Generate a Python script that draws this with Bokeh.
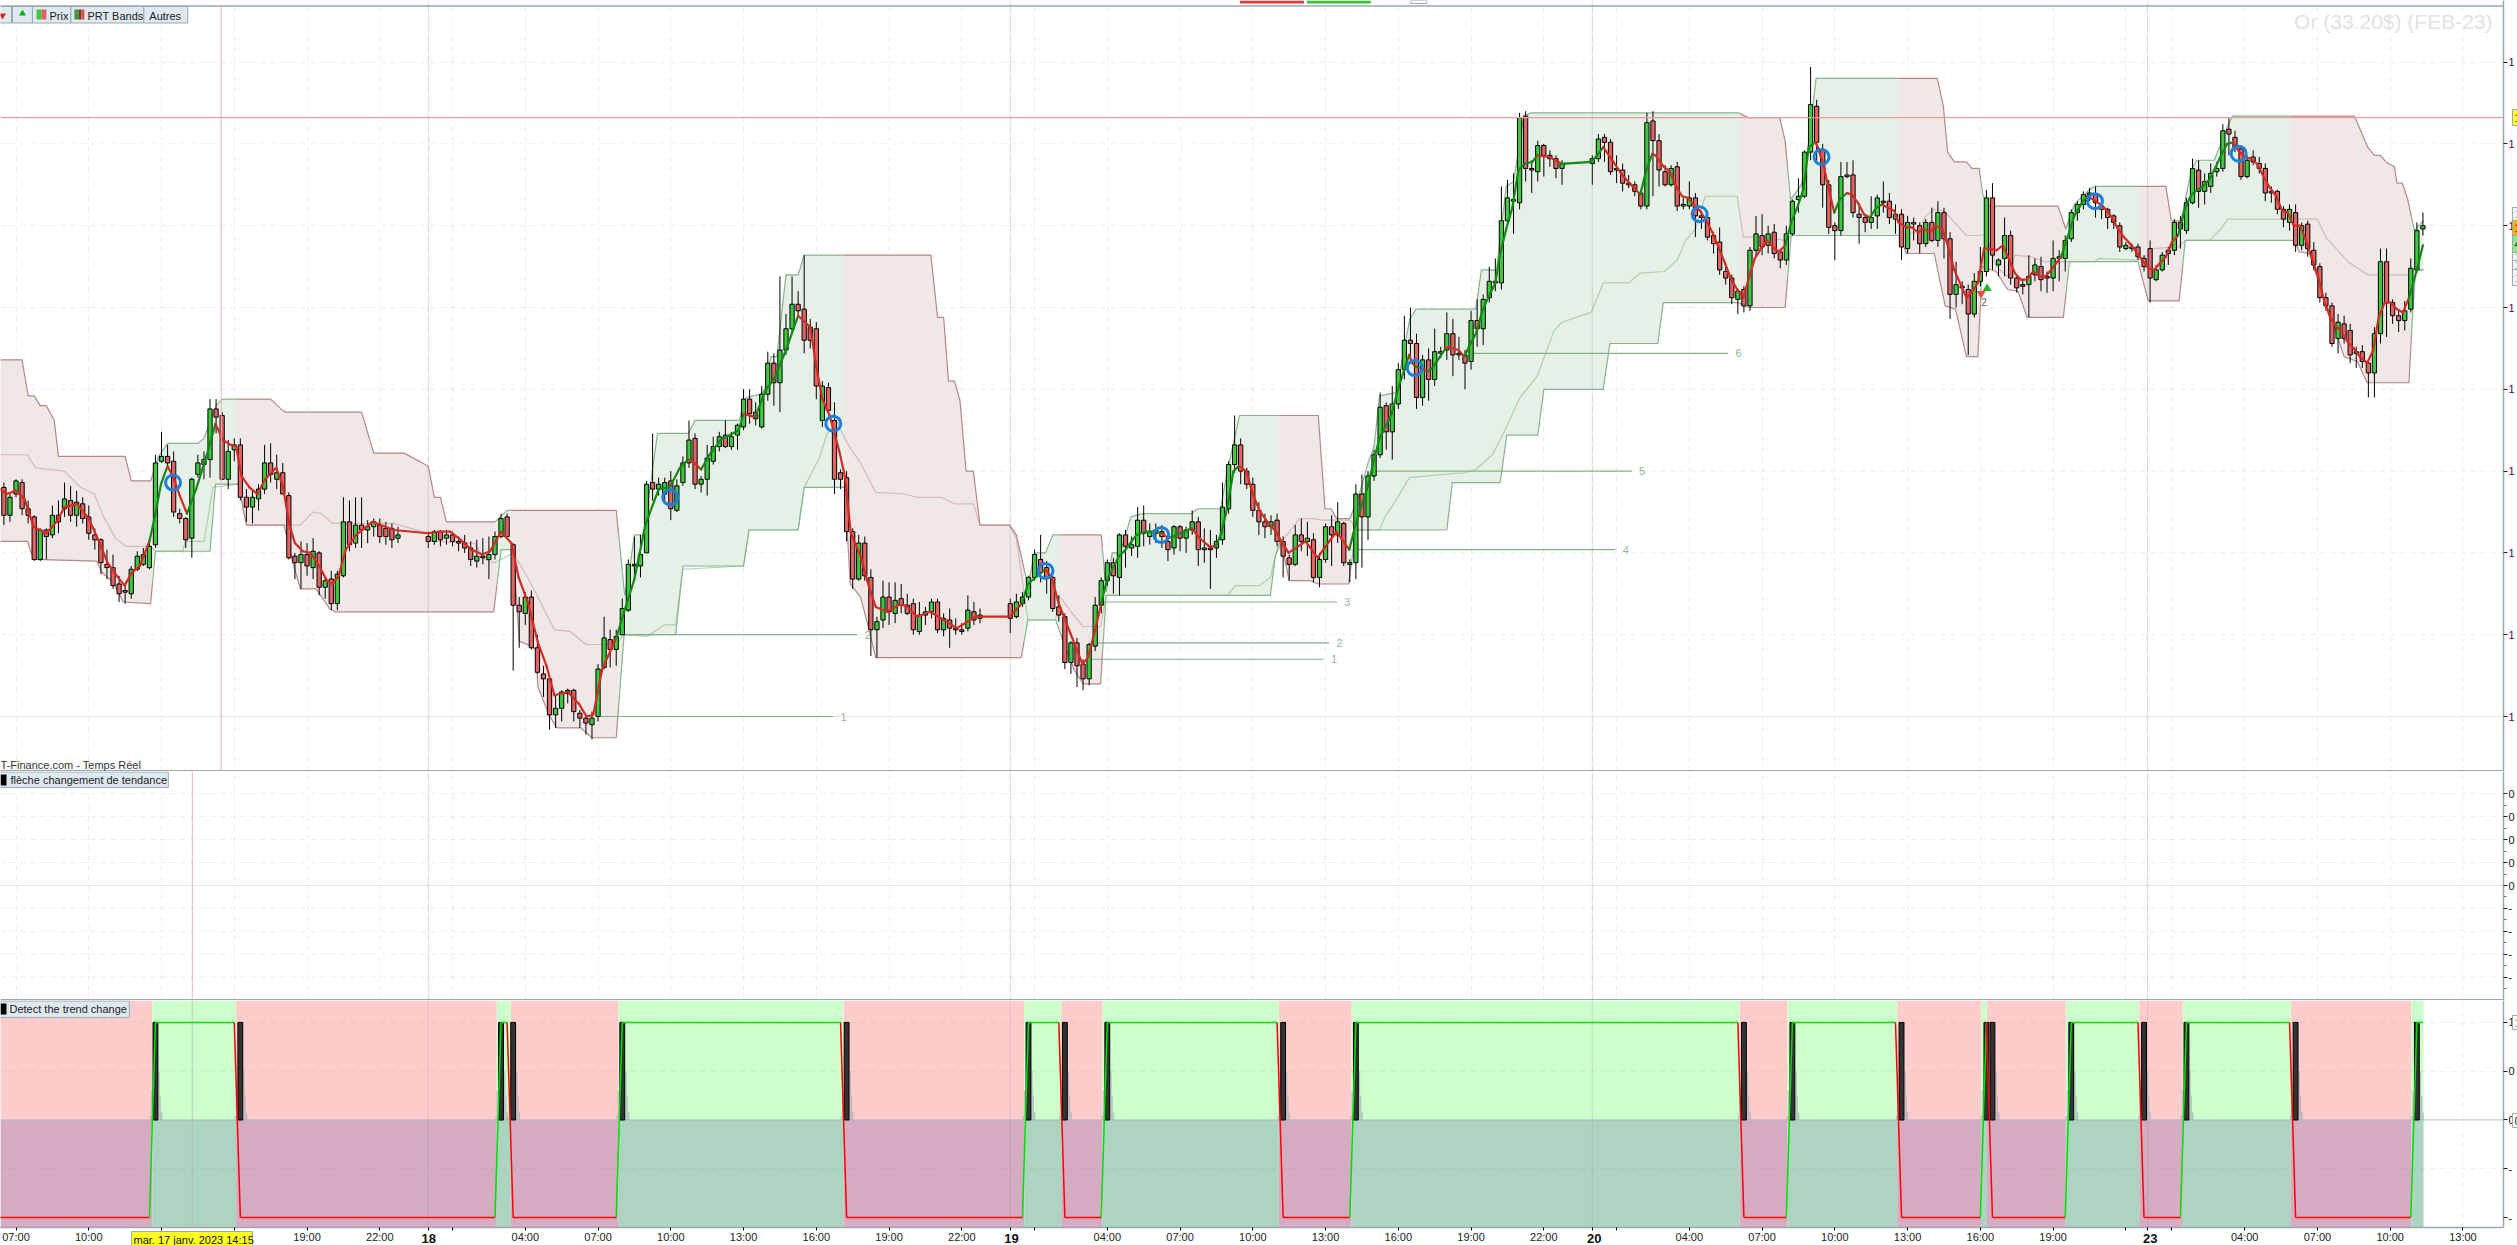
from bokeh.plotting import figure
from bokeh.layouts import column
from bokeh.embed import file_html
from bokeh.resources import INLINE
from bokeh.models import (LinearAxis, FixedTicker, Range1d, Span)
from bokeh.core.properties import value
import numpy as np

FONT = "Liberation Sans"

# ---- candles: (open, close, high, low); each session has its first bar number
session_17_start = 0
session_17 = [
(1919.0,1917.3,1919.3,1916.7),(1917.3,1918.4,1918.6,1916.9),(1918.6,1919.4,1919.5,1918.4),(1919.3,1917.7,1919.5,1917.3),
(1917.7,1917.3,1918.2,1916.8),(1917.2,1914.6,1917.3,1914.5),(1914.6,1916.4,1916.5,1914.5),(1916.4,1916.0,1916.5,1914.6),
(1916.1,1917.3,1917.9,1915.9),(1917.3,1916.9,1918.2,1916.2),(1917.7,1918.3,1919.3,1917.2),(1918.2,1917.3,1919.1,1916.9),
(1917.3,1918.1,1918.8,1916.6),(1918.0,1917.1,1918.4,1916.8),(1917.2,1916.2,1917.9,1915.8),(1916.1,1915.8,1916.5,1915.2),
(1915.8,1914.4,1915.9,1913.7),(1914.3,1914.1,1915.2,1913.4),(1914.1,1913.0,1914.9,1912.8),(1913.1,1912.5,1913.6,1912.0),
(1912.7,1912.6,1913.1,1911.9),(1912.5,1914.0,1914.2,1912.2),(1914.0,1914.8,1915.1,1913.9),(1914.3,1914.9,1915.3,1914.2),
(1914.1,1915.4,1915.9,1914.0),(1915.5,1920.5,1921.0,1915.3),(1920.6,1920.9,1922.4,1920.5),(1920.9,1920.5,1921.6,1920.3),
(1920.6,1917.5,1921.2,1917.2),(1917.4,1917.1,1917.7,1916.8),(1917.1,1915.8,1917.2,1915.3),(1915.9,1919.5,1919.6,1914.7),
(1919.8,1920.5,1921.0,1919.6),(1920.4,1920.7,1921.2,1919.5),(1920.7,1923.8,1924.4,1919.6),(1923.8,1923.3,1924.4,1922.3),
(1923.4,1919.5,1923.6,1919.5),(1919.5,1921.2,1921.9,1918.9),(1921.3,1921.6,1922.0,1920.6),(1921.6,1918.4,1922.0,1918.2),
(1918.4,1917.8,1918.9,1916.9),(1917.8,1918.4,1918.9,1916.8),(1918.3,1918.9,1919.2,1917.6),(1918.9,1920.5,1921.6,1918.6),
(1920.5,1919.8,1921.7,1919.3),(1919.5,1919.9,1921.0,1918.9),(1919.9,1918.6,1920.5,1918.6),(1918.5,1914.7,1918.7,1914.6),
(1914.8,1914.4,1915.0,1913.4),(1914.4,1914.9,1915.7,1912.8),(1914.9,1914.2,1915.6,1913.6),(1914.1,1915.1,1915.9,1913.4),
(1915.0,1912.9,1915.1,1912.4),(1912.9,1913.3,1913.6,1912.2),(1913.4,1911.9,1913.9,1911.5),(1911.9,1913.7,1913.9,1911.5),
(1913.6,1916.9,1918.4,1913.5),(1916.9,1915.5,1918.2,1915.1),(1915.6,1916.7,1918.4,1915.3),(1916.7,1916.4,1918.4,1915.3),
(1916.4,1916.6,1917.0,1915.6),(1916.6,1916.9,1917.1,1916.0),(1916.7,1916.0,1917.1,1915.6),(1916.5,1916.0,1916.9,1915.5),
(1916.5,1915.8,1916.8,1915.3),(1915.9,1916.1,1916.6,1915.6),
]
session_18_start = 70
session_18 = [
(1916.0,1915.7,1916.3,1915.3),(1915.7,1916.3,1916.4,1915.5),(1916.3,1915.8,1916.4,1915.4),(1915.9,1916.1,1916.4,1915.5),
(1916.1,1915.7,1916.3,1915.4),(1915.7,1915.6,1916.0,1915.1),(1915.6,1915.3,1916.1,1915.0),(1915.3,1914.6,1915.7,1914.2),
(1914.5,1914.8,1915.8,1914.1),(1914.8,1914.7,1915.9,1914.3),(1914.6,1914.9,1916.0,1913.4),(1914.9,1916.0,1916.3,1914.6),
(1916.0,1917.1,1917.4,1915.9),(1917.2,1916.0,1917.4,1915.9),(1915.5,1911.8,1915.6,1907.8),(1911.8,1911.4,1912.3,1909.2),
(1911.3,1912.3,1912.6,1910.6),(1912.3,1909.2,1912.7,1909.1),(1909.2,1907.7,1910.0,1907.6),(1907.6,1907.3,1908.1,1906.2),
(1907.3,1905.1,1907.5,1904.2),(1905.1,1905.5,1906.3,1904.3),(1905.5,1906.5,1906.6,1904.7),(1906.4,1906.6,1906.7,1905.8),
(1906.6,1905.3,1906.7,1904.7),(1905.2,1904.9,1905.4,1904.3),(1904.9,1904.6,1905.1,1903.9),(1904.5,1904.9,1905.3,1903.6),
(1905.0,1907.9,1908.2,1904.7),(1908.0,1909.8,1911.1,1907.9),(1909.7,1909.1,1910.3,1908.0),(1909.1,1909.9,1910.3,1908.1),
(1910.0,1911.6,1912.2,1910.0),(1911.5,1914.3,1914.6,1911.4),(1914.2,1914.3,1916.0,1913.3),(1914.2,1914.9,1916.1,1913.5),
(1915.0,1919.2,1919.4,1915.0),(1919.3,1918.9,1922.3,1918.2),(1918.9,1919.2,1919.6,1918.5),(1918.6,1919.3,1919.6,1918.0),
(1919.4,1917.7,1920.0,1917.0),(1917.6,1919.1,1919.5,1917.5),(1919.3,1920.5,1920.9,1919.1),(1920.5,1921.9,1923.1,1920.2),
(1922.0,1919.2,1922.3,1918.9),(1919.2,1919.5,1919.7,1918.7),(1919.5,1920.8,1921.6,1918.5),(1920.6,1921.5,1922.1,1920.4),
(1921.5,1922.1,1922.4,1921.2),(1922.2,1921.5,1923.1,1921.4),(1921.5,1922.1,1922.4,1921.3),(1922.2,1922.8,1922.9,1921.3),
(1922.7,1924.4,1925.0,1922.5),(1924.4,1923.5,1925.0,1922.9),(1923.6,1923.2,1924.2,1922.8),(1922.7,1924.7,1925.2,1922.6),
(1924.7,1926.6,1927.3,1924.3),(1926.6,1925.4,1927.2,1924.0),(1925.4,1927.4,1931.9,1923.6),(1927.4,1928.7,1929.6,1927.1),
(1928.7,1930.2,1931.9,1928.5),(1930.2,1929.8,1931.0,1929.5),(1929.9,1928.0,1933.2,1927.2),(1928.8,1928.0,1929.3,1927.5),
(1928.7,1925.2,1929.1,1924.4),(1923.1,1925.2,1925.5,1922.7),(1925.1,1923.7,1925.4,1923.6),(1923.1,1919.5,1924.2,1918.6),
(1919.9,1919.5,1920.1,1918.9),(1919.6,1916.3,1920.0,1915.7),(1916.3,1913.4,1916.5,1912.8),(1913.4,1915.6,1916.1,1913.3),
(1915.6,1913.6,1916.0,1913.3),(1913.5,1910.3,1914.0,1908.7),(1910.3,1910.8,1911.1,1908.6),(1910.9,1912.3,1913.3,1910.4),
(1912.3,1911.4,1913.2,1910.6),(1911.3,1912.1,1913.2,1910.7),(1912.2,1911.8,1913.1,1911.3),(1911.8,1911.3,1912.5,1911.2),
(1911.9,1910.3,1912.2,1910.0),(1910.2,1911.2,1912.0,1910.0),(1911.2,1911.4,1911.7,1910.6),(1911.4,1912.0,1912.2,1911.0),
(1912.0,1910.3,1912.2,1910.1),(1910.3,1911.0,1911.3,1909.9),(1910.9,1910.4,1911.6,1909.2),(1910.4,1910.3,1911.0,1910.0),
(1910.3,1910.2,1910.7,1910.0),(1910.4,1911.5,1912.4,1910.2),(1911.4,1910.9,1912.0,1910.6),(1911.0,1911.2,1911.6,1910.7),
]
session_19_start = 166
session_19 = [
(1911.9,1911.0,1912.2,1910.1),(1911.1,1912.0,1912.5,1911.0),(1911.9,1912.3,1912.6,1911.7),(1912.3,1913.5,1913.6,1912.1),
(1913.5,1914.9,1915.2,1913.3),(1914.6,1913.8,1916.1,1913.2),(1914.1,1913.5,1914.5,1912.5),(1913.5,1911.6,1913.6,1911.4),
(1911.7,1911.2,1912.4,1910.8),(1911.1,1908.3,1911.3,1907.9),(1908.3,1909.5,1909.6,1907.6),(1909.5,1908.1,1909.8,1906.8),
(1908.2,1907.3,1908.5,1906.6),(1907.3,1909.4,1909.5,1906.9),(1909.3,1911.8,1912.3,1909.0),(1911.8,1913.3,1913.5,1911.3),
(1913.3,1914.4,1914.6,1913.0),(1914.4,1913.6,1914.7,1912.5),(1913.5,1916.1,1916.2,1912.4),(1916.1,1915.4,1916.4,1914.1),
(1915.3,1915.5,1916.0,1914.8),(1915.4,1917.0,1917.8,1914.7),(1917.0,1916.2,1917.9,1915.4),(1916.0,1916.3,1916.8,1915.5),
(1916.4,1916.2,1916.8,1915.6),(1916.3,1916.0,1916.7,1915.3),(1915.7,1915.2,1916.2,1914.5),(1915.3,1916.6,1916.7,1914.9),
(1916.6,1915.9,1916.7,1915.1),(1915.9,1916.4,1916.6,1915.0),(1916.4,1916.9,1917.6,1916.1),(1916.9,1915.2,1917.2,1914.2),
(1915.2,1915.3,1916.5,1914.4),(1915.3,1915.2,1916.4,1912.8),(1915.3,1915.7,1916.1,1914.7),(1915.8,1917.8,1919.3,1915.5),
(1917.7,1920.4,1920.6,1917.4),(1920.4,1921.6,1923.4,1919.9),(1921.6,1920.0,1922.0,1919.2),(1920.0,1919.2,1920.2,1918.9),
(1919.2,1917.6,1919.6,1917.2),(1917.6,1916.9,1918.1,1916.1),(1916.9,1916.6,1917.4,1915.9),(1916.6,1916.9,1917.3,1916.1),
(1917.0,1915.7,1917.4,1915.4),(1915.7,1914.8,1916.0,1913.5),(1914.7,1914.3,1914.9,1913.3),(1914.3,1916.1,1916.7,1914.2),
(1916.1,1915.7,1917.1,1915.1),(1915.7,1915.9,1916.9,1914.8),(1915.8,1913.5,1916.2,1913.2),(1913.5,1914.6,1915.0,1912.9),
(1914.6,1916.6,1916.8,1914.4),(1916.6,1916.1,1917.3,1914.2),(1916.1,1916.9,1918.1,1915.6),(1916.8,1914.4,1916.9,1914.2),
(1914.3,1914.4,1914.6,1913.2),(1914.4,1918.6,1919.2,1913.4),(1918.6,1917.2,1919.8,1914.1),(1917.2,1919.7,1920.0,1915.8),
(1919.7,1921.0,1921.3,1919.4),(1921.0,1923.9,1924.8,1920.8),(1924.0,1922.4,1924.2,1921.3),(1922.4,1924.1,1925.2,1920.7),
(1924.1,1926.2,1926.6,1923.8),(1926.2,1928.0,1929.5,1925.6),(1928.0,1927.8,1930.0,1926.7),(1927.8,1924.5,1928.4,1923.8),
(1924.5,1926.8,1927.1,1924.0),(1926.8,1925.6,1927.5,1924.3),(1925.6,1927.3,1928.7,1925.2),(1927.2,1927.3,1927.6,1926.9),
(1927.4,1928.4,1929.7,1926.8),(1928.4,1927.1,1929.3,1925.8),(1927.2,1927.1,1928.2,1926.8),(1927.1,1926.6,1927.4,1925.0),
(1926.7,1929.2,1929.8,1926.2),(1929.2,1928.7,1930.5,1927.6),(1928.7,1930.5,1930.8,1927.7),(1930.6,1931.6,1932.5,1930.3),
(1931.6,1931.5,1933.0,1931.0),(1931.5,1935.3,1937.4,1931.1),(1935.3,1936.7,1937.8,1935.0),(1936.6,1936.5,1938.2,1934.5),
(1936.4,1941.6,1941.9,1936.0),(1941.7,1938.5,1942.0,1937.7),(1938.5,1938.4,1939.0,1937.0),(1938.3,1939.9,1940.2,1937.7),
(1939.9,1939.3,1940.0,1938.0),(1939.3,1939.1,1939.6,1938.6),(1939.1,1938.5,1939.3,1937.9),(1938.5,1938.8,1939.0,1937.5),
]
session_20_start = 262
session_20 = [
(1938.8,1939.1,1939.3,1937.5),(1939.1,1940.3,1940.6,1938.9),(1940.4,1940.1,1940.6,1938.9),(1940.1,1938.3,1940.3,1938.1),
(1938.4,1938.5,1939.3,1937.6),(1938.4,1937.6,1938.8,1937.1),(1937.6,1937.5,1938.1,1937.3),(1937.5,1937.1,1937.7,1936.8),
(1937.0,1936.2,1937.2,1936.0),(1936.2,1941.3,1941.9,1936.0),(1941.4,1940.2,1942.0,1936.8),(1940.2,1938.4,1940.6,1937.4),
(1938.3,1937.5,1938.7,1937.4),(1937.5,1938.5,1938.7,1937.4),(1938.6,1936.2,1938.9,1935.9),(1936.2,1936.3,1936.7,1936.0),
(1936.2,1936.7,1937.7,1936.0),(1936.7,1935.6,1937.0,1934.3),(1935.6,1935.5,1935.9,1934.8),(1935.5,1934.3,1935.7,1934.1),
(1934.4,1933.9,1934.6,1933.3),(1934.0,1932.3,1934.9,1932.0),(1932.2,1931.8,1932.5,1931.4),(1931.8,1930.6,1932.0,1930.2),
(1930.5,1931.0,1931.1,1929.6),(1931.1,1930.1,1931.3,1929.7),(1930.1,1933.5,1933.7,1929.8),(1933.5,1934.5,1935.6,1933.1),
(1934.4,1933.7,1935.7,1933.2),(1933.8,1934.5,1935.0,1933.3),(1934.6,1933.3,1935.1,1933.0),(1933.4,1932.9,1933.6,1932.4),
(1932.9,1934.5,1935.0,1932.6),(1934.5,1936.5,1936.6,1934.4),(1936.6,1936.8,1937.9,1935.8),(1936.8,1939.5,1939.6,1936.7),
(1939.5,1942.4,1944.7,1939.0),(1942.3,1940.1,1942.7,1938.9),(1939.6,1937.5,1940.0,1936.1),(1937.5,1934.9,1937.8,1934.5),
(1935.0,1934.7,1935.2,1932.9),(1934.7,1938.0,1938.9,1934.4),(1938.1,1938.0,1938.9,1937.9),(1938.1,1935.8,1939.0,1935.5),
(1935.7,1935.5,1936.4,1933.9),(1935.5,1935.2,1935.7,1934.6),(1935.2,1935.5,1936.8,1934.8),(1935.6,1936.7,1936.9,1934.8),
(1936.4,1936.5,1937.7,1935.8),(1936.5,1935.5,1937.0,1935.1),(1935.4,1935.7,1936.3,1934.5),(1935.7,1933.7,1936.0,1932.9),
(1933.6,1935.2,1935.6,1933.3),(1935.2,1935.1,1935.5,1934.1),(1935.0,1933.9,1935.2,1933.3),(1933.9,1935.2,1935.4,1933.7),
(1935.2,1934.1,1936.1,1934.0),(1934.1,1935.8,1936.5,1933.7),(1935.8,1934.2,1936.1,1933.0),(1934.2,1930.8,1934.6,1929.3),
(1930.8,1931.4,1932.8,1930.0),(1931.2,1931.3,1931.6,1930.2),(1931.1,1929.6,1931.4,1927.1),(1929.6,1931.6,1932.1,1929.4),
(1931.6,1932.2,1933.7,1931.3),(1932.2,1936.7,1937.2,1931.9),(1936.7,1933.2,1937.6,1932.3),(1932.6,1932.9,1933.0,1931.9),
(1933.0,1934.4,1935.5,1931.9),(1934.4,1931.8,1934.7,1931.4),(1931.8,1931.2,1931.9,1930.9),(1931.4,1931.3,1931.7,1930.8),
(1931.4,1931.9,1933.2,1929.4),(1932.0,1932.6,1933.0,1931.6),(1932.5,1931.7,1933.1,1931.0),(1931.9,1931.8,1932.2,1930.9),
(1931.8,1933.0,1934.1,1931.0),(1933.0,1933.1,1933.5,1931.6),(1933.0,1934.1,1934.4,1932.2),(1934.2,1935.8,1936.0,1934.0),
(1935.8,1936.3,1936.5,1935.3),(1936.3,1936.9,1937.1,1936.0),(1936.9,1937.0,1937.3,1936.5),(1936.9,1936.4,1937.4,1935.5),
(1936.2,1936.0,1936.4,1935.4),(1936.0,1935.5,1936.1,1934.8),(1935.6,1935.2,1935.7,1934.8),(1935.0,1933.7,1935.2,1933.4),
(1933.6,1933.8,1934.0,1933.5),(1933.7,1933.6,1933.9,1933.4),(1933.7,1933.1,1933.9,1932.9),(1933.0,1932.5,1933.2,1932.2),
(1933.6,1931.8,1934.1,1930.3),(1931.7,1932.3,1932.6,1931.6),(1932.3,1933.2,1933.4,1932.2),(1933.3,1933.5,1933.7,1932.6),
(1933.5,1935.2,1935.4,1933.2),(1935.2,1934.8,1935.6,1933.6),(1934.7,1936.4,1936.7,1934.5),(1936.4,1938.5,1939.1,1936.3),
(1938.4,1937.1,1939.0,1936.1),(1937.1,1937.7,1938.2,1936.3),(1937.4,1938.2,1938.8,1937.0),(1938.3,1938.5,1938.9,1938.0),
(1938.5,1940.8,1941.2,1938.3),(1940.9,1940.6,1941.6,1939.3),(1940.4,1939.8,1940.8,1939.5),(1939.7,1938.0,1939.9,1937.8),
(1938.0,1939.0,1939.3,1937.9),(1939.2,1938.9,1939.6,1938.7),(1938.8,1938.5,1939.2,1938.2),(1938.5,1937.0,1938.8,1936.5),
(1937.0,1937.1,1937.4,1936.4),(1937.1,1936.0,1937.2,1935.7),(1936.0,1935.4,1936.2,1934.9),(1935.2,1936.0,1936.3,1934.7),
(1935.8,1933.8,1936.3,1933.4),(1933.8,1935.0,1935.2,1933.5),(1935.1,1933.6,1935.3,1933.1),(1933.5,1932.6,1934.0,1932.3),
(1932.5,1930.6,1932.7,1930.3),(1930.6,1930.1,1930.9,1929.8),(1930.1,1927.8,1930.3,1927.6),(1928.1,1929.1,1929.6,1927.2),
(1929.0,1928.1,1929.5,1927.8),(1928.6,1927.1,1929.0,1926.6),(1927.2,1927.3,1927.6,1926.3),(1927.3,1926.7,1927.7,1926.3),
(1926.6,1926.0,1926.8,1924.5),(1926.0,1928.4,1928.8,1924.5),(1928.4,1932.8,1933.6,1927.8),(1932.8,1930.3,1933.6,1928.2),
(1930.3,1929.5,1930.5,1929.0),(1929.5,1929.2,1929.9,1928.5),(1929.2,1929.8,1930.4,1928.6),(1929.9,1932.4,1933.0,1929.7),
(1932.3,1934.7,1935.2,1932.1),(1934.8,1935.0,1935.8,1934.4),
]

# ---- PRT bands: (bar, price)
upper_band = [(-0.6,1926.8),(3,1926.8),(4,1924.6),(5,1924.6),(6,1924),(7,1924),(8.3,1923.1),(9,1920.9),(20,1920.9),(21,1919.4),(24.2,1919.4),(25.5,1920.9),(27,1921.7),(32,1921.7),(33,1922),(35,1924),(36,1924.4),(44,1924.4),(46,1923.7),(46.5,1923.6),(59,1923.6),(61,1921.1),(66,1921.1),(70,1920.3),(71,1918.4),(72,1918.4),(73,1916.9),(81,1916.9),(83,1917.6),(101,1917.6),(102.4,1912.4),(103,1913.5),(104,1916.1),(105.5,1916.1),(107.8,1922.3),(112.9,1922.3),(114,1923.1),(121.3,1923.1),(122.4,1924.5),(124.9,1924.7),(125.5,1925),(126.5,1927),(127.5,1927),(129,1932),(131,1932),(132,1933.2),(152.9,1933.2),(154,1929.4),(155,1929.4),(155.8,1925.5),(156.8,1925.5),(157.7,1924.3),(158.7,1920),(159.9,1920),(161,1916.7),(165.9,1916.7),(167,1916.1),(168.9,1913),(170,1915),(171.8,1915),(173,1916.1),(181,1916.1),(181.8,1912.6),(182.8,1915),(184.1,1915),(185.9,1917.2),(187.8,1917.4),(195.9,1917.4),(196.9,1917.7),(200.7,1917.7),(201.8,1920),(203.8,1923.4),(216.8,1923.4),(217.9,1917.7),(218.9,1917.7),(219.8,1917.1),(222,1917.1),(223.5,1918.5),(225,1920.5),(226,1921.5),(226.9,1924.6),(229.6,1924.8),(231.9,1929.3),(232.9,1929.9),(242.8,1929.9),(243.7,1932.3),(246.2,1932.3),(247.8,1937.4),(249,1937.7),(250.7,1941.7),(251.9,1941.9),(286.1,1941.9),(287.8,1941.6),(292.9,1941.6),(293.8,1940.2),(294.7,1936.6),(296.3,1937.4),(297,1938),(298.9,1944),(318.9,1944),(319.9,1942.3),(320.6,1939.5),(321.7,1938.9),(323.7,1938.9),(324.6,1938.5),(325.8,1938.5),(326.4,1936.9),(327.2,1936.2),(338.8,1936.2),(340.1,1934.8),(341.5,1936.3),(343.7,1937.1),(344.8,1937.4),(356.6,1937.4),(357.5,1935.3),(359.1,1935.3),(360.8,1938.4),(361.7,1939),(364.6,1939),(366.8,1941.1),(367.6,1941.7),(387.7,1941.7),(389.9,1939.8),(391,1939.3),(392,1939.3),(392.9,1938.9),(394.3,1938.6),(394.7,1937.6),(395.6,1937.6),(396.5,1936.6),(397,1935.7),(397.6,1934.7),(399,1935.3)]
lower_band = [(-0.6,1915.7),(3.9,1915.7),(4.9,1914.6),(15.3,1914.5),(16.2,1913.8),(18,1913.2),(19.7,1912),(24.2,1911.9),(25,1915.1),(34,1915.1),(34.9,1919.2),(38.7,1919.2),(40,1916.7),(46.2,1916.7),(47.5,1914.6),(48.9,1912.8),(51.5,1912.8),(53.7,1911.6),(54.6,1911.4),(80.8,1911.4),(82,1915.2),(84,1915.2),(85,1909.6),(87,1909.3),(87.7,1909.1),(88.1,1906.8),(89.9,1905.1),(91.2,1904.3),(95.2,1904.3),(97,1903.7),(101,1903.7),(102.3,1910),(110.8,1910),(112,1914.2),(122,1914.2),(122.9,1916.4),(131,1916.4),(132,1919),(138.7,1919),(139.6,1913.1),(141.3,1912.3),(142.7,1910.3),(143.8,1908.6),(167.8,1908.6),(168.9,1910.9),(173.5,1910.9),(174.9,1909.4),(176.6,1907.8),(178,1907),(180.9,1907),(181.8,1912.4),(208.9,1912.4),(209.7,1914.8),(210.6,1915.8),(212,1913.3),(215.5,1913.3),(216.8,1913.1),(221.8,1913.1),(223,1916.4),(238,1916.4),(238.9,1919.3),(246.8,1919.3),(247.9,1922.2),(253,1922.2),(254,1925),(263.8,1925),(264.9,1927.8),(272.8,1927.8),(273.7,1930.3),(286,1930.3),(287.8,1930),(293.8,1930),(294.8,1934.4),(312.7,1934.4),(313.8,1933.3),(318.4,1933.3),(320.2,1930.1),(321.9,1929.9),(323.7,1927),(325.6,1927),(326.3,1932.5),(328.6,1932.2),(330.5,1931.1),(332.2,1931),(333.7,1929.4),(339.7,1929.4),(340.7,1932.8),(352,1932.8),(353.7,1930.4),(358.8,1930.4),(359.8,1934.1),(377.8,1934.1),(378.6,1933.4),(380.3,1933.3),(381.1,1932.3),(383.3,1930),(386,1927),(388.2,1926.7),(389.8,1925.4),(396.7,1925.4),(397.3,1929.6),(397.8,1932.3),(399,1932.3)]
inner_band = [(-0.6,1921),(3.9,1921),(5.2,1920.2),(10,1920),(12.7,1919),(14.9,1918.6),(16.2,1917.4),(18.4,1915.9),(20.2,1915.4),(24.2,1915.4),(25,1915.1),(29.5,1915.1),(29.9,1915.7),(33,1915.7),(34.5,1919),(38.7,1919.2),(40,1916.7),(48.9,1916.7),(51,1917.5),(52.4,1917.4),(54.2,1916.8),(64.3,1916.8),(70,1916.2),(71,1915.7),(77.6,1915.6),(79.3,1914.6),(81,1914.4),(84,1915),(87,1913.1),(90.8,1910.3),(93.4,1910.2),(96,1909.4),(101,1909.4),(102.3,1910),(106.2,1909.9),(108.9,1910.6),(110.8,1910.6),(112,1914),(122,1914.2),(122.9,1916.4),(131,1916.4),(132,1919),(134.5,1920.8),(135.8,1922.3),(137.5,1923),(138.7,1922),(139.6,1921.4),(141.3,1920.5),(143.8,1918.7),(148.4,1918.6),(150.6,1918.4),(154.6,1918.4),(156.8,1918),(159.9,1918),(161,1916.7),(165.9,1916.7),(167,1915.9),(168.9,1910.9),(173.5,1910.9),(174,1912.4),(175.8,1911.5),(178,1910.5),(180.9,1910.5),(181.8,1912.4),(201.8,1912.4),(203.1,1913),(207.1,1913),(208.9,1913.5),(209.7,1914.8),(211,1915.8),(213.7,1917.1),(215.9,1917.1),(217.5,1917),(222.1,1917),(223,1916.4),(226.9,1916.4),(227.8,1917.2),(229.6,1918.2),(231.8,1919.6),(237.5,1919.8),(241,1919.9),(242.8,1920.1),(245.5,1921),(247.2,1922.2),(248.6,1923.3),(249.9,1924.4),(252.9,1925.8),(254.3,1927.2),(255.7,1928.6),(257,1929.1),(261.8,1929.7),(263.8,1931.5),(268,1931.5),(269.9,1932.1),(273.9,1932.2),(276,1932.9),(277.4,1934.1),(279,1934.8),(280.6,1936.8),(285.9,1936.8),(286.9,1934.3),(290.5,1934.3),(293.8,1934.1),(294.8,1934.4),(312.4,1934.4),(315.7,1934.6),(317,1935.6),(318.4,1936),(320.1,1935.9),(321.5,1935.3),(323.7,1934.4),(325.9,1934.4),(327,1934.5),(328.6,1932.5),(330.5,1931.9),(331.7,1933.2),(334.4,1933.1),(336.6,1932.8),(344.8,1932.8),(345.5,1933),(352,1932.9),(353.6,1933.2),(354.4,1933.6),(358.6,1933.7),(359.8,1934.1),(363.8,1934.1),(365.7,1934.8),(366.8,1935.4),(381.6,1935.4),(383,1934.3),(384.4,1933.7),(386.6,1932.8),(389.9,1932),(396.7,1932),(397.7,1932.3),(399,1932.3)]

# trend regime edges (starts red) and flips of the detector, bar numbers
regime_edges = [-0.6,24.5,38.3,81.3,83.6,101.4,138.5,168.3,174.4,181.2,210.3,222.3,286.3,294.2,312.3,326.1,327.1,340.1,352.2,359.4,377.2,397.1,399.1]
flip_bars = [25,39,82,84,102,139,169,175,182,211,223,287,295,313,327,328,341,353,360,378,398]

# ---- coloured moving average: (bar, price) plus bar ranges drawn green
moving_avg = [(-0.6,1918.9),(0.5,1918.6),(1.9,1918.8),(3.4,1918.3),(4.9,1916.6),(7,1916.2),(8.7,1916.9),(10,1917.8),(12,1918),(14,1917.1),(15.8,1915.6),(17.1,1914.4),(18.4,1913.7),(19.9,1913),(21.1,1913.8),(22.4,1914.2),(24,1915.7),(25,1917.4),(25.9,1919.2),(27,1920.3),(28.1,1919.5),(29,1918.5),(30.2,1917.4),(31.7,1918.9),(33.4,1920.9),(34.9,1922.9),(36.1,1921.9),(37.4,1921.6),(38.3,1921.5),(39.2,1919.7),(40.5,1919),(41.8,1918.6),(43.1,1919.5),(44.9,1920.2),(46,1919.1),(47.1,1916.7),(48,1915.6),(49.3,1915.1),(50.6,1915),(52,1914.2),(53.3,1913.3),(54.2,1913.1),(55.2,1913.6),(56.4,1915.2),(58.1,1916.1),(60.8,1916.9),(64.3,1916.4),(70,1916.2),(71.8,1916.3),(73.6,1916.3),(75,1915.9),(77.1,1915.2),(78.9,1914.9),(80.2,1915.1),(82,1916.3),(83.7,1915.6),(84.9,1913.5),(86.4,1912),(88.1,1909.5),(89.5,1908.1),(90.8,1906.3),(93,1906.5),(94.8,1905.8),(96.1,1905),(97.2,1905.1),(98.7,1907.9),(101,1909.8),(102.3,1911.4),(104,1913.4),(105.8,1916.7),(108,1918.9),(109.8,1919),(111.5,1920.2),(112.9,1920.7),(113.9,1920.5),(115,1920.1),(116.4,1921),(118.2,1921.9),(121.2,1922.5),(122,1923.5),(123.9,1923.3),(125.7,1925),(127,1925.6),(129,1927.4),(131,1929.5),(133,1928.8),(134,1926.4),(135,1924.4),(136.2,1923.4),(137.8,1921.2),(138.7,1919.7),(139.7,1916.2),(141.3,1914.8),(142.7,1912.9),(143.8,1911.7),(145.7,1911.4),(147.5,1911.8),(148.8,1911.8),(150.6,1911.1),(152.8,1911.4),(154.6,1911),(157.2,1910.4),(160.3,1911.1),(165.9,1911.1),(167.9,1911.9),(168.9,1913.1),(171.8,1914),(172.8,1913.5),(174,1911.9),(175.9,1910.1),(177.9,1908.2),(178.8,1908.6),(180,1910.3),(181,1911.9),(181.9,1913.3),(183.9,1914.8),(184.8,1915.1),(186.8,1916.1),(188.4,1916.3),(189.8,1916.3),(191,1916.2),(192,1915.9),(192.9,1916),(195.9,1916.5),(197.2,1915.9),(198.8,1915.4),(199.9,1915.4),(200.8,1916.2),(201.8,1917.8),(202.8,1920),(203.7,1920.3),(204.9,1920),(206,1918.6),(207.1,1917.6),(208.2,1917),(209.8,1916.3),(210.9,1915.6),(211.9,1915),(214.7,1915.7),(216.7,1914.7),(217.8,1915.3),(219.8,1916.3),(221.9,1915.2),(223,1916.8),(224.9,1919),(226.8,1921.9),(228.9,1923.5),(230.1,1925.2),(231.8,1927.1),(232.3,1926.6),(232.8,1926.4),(233.7,1926.3),(234.8,1926.1),(235.6,1926.3),(237.8,1927.5),(238.3,1927.6),(239.9,1927.4),(240.9,1927),(241.9,1927.8),(242.8,1928.4),(243.8,1929.7),(244.8,1930.6),(246,1931.5),(246.8,1933.3),(247.8,1934.8),(248.8,1936.1),(249.8,1938.4),(250.9,1938.8),(252.1,1938.9),(252.9,1939.3),(254.9,1939.2),(256.9,1938.8),(257.6,1938.8),(261.8,1938.9),(262.8,1939.3),(263.8,1939.8),(265.3,1939),(266.9,1938.1),(268.9,1937.3),(269.9,1936.9),(270.9,1938.4),(271.9,1939.4),(272.4,1939.3),(273.8,1938.6),(274.8,1938.3),(275.8,1937.4),(276.8,1936.8),(277.8,1936.7),(278.8,1936.2),(279.8,1935.9),(280.8,1935.3),(281.8,1934.6),(282.9,1933.6),(283.9,1932.7),(284.9,1931.7),(285.9,1931.1),(286.9,1930.6),(287.9,1931.9),(288.8,1933),(289.8,1933.6),(290.8,1934.1),(291.8,1933.7),(292.8,1933.4),(293.8,1933.8),(294.8,1935.2),(295.8,1936.1),(296.8,1937.2),(297.7,1939.8),(298.8,1940.1),(299.3,1939.7),(300.2,1938.6),(300.9,1937.4),(301.9,1935.8),(302.8,1936.6),(304,1937),(304.8,1936.9),(305.8,1936.4),(306.8,1935.7),(307.8,1935.5),(308.8,1936.1),(309.8,1936.3),(310.8,1936.1),(311.8,1935.9),(312.5,1935.2),(313.8,1934.9),(314.7,1934.9),(315.7,1934.6),(316.7,1934.8),(317.7,1934.6),(318.7,1935),(319.7,1934.8),(320.7,1933.7),(321.7,1932.3),(323.7,1930.6),(324.7,1931),(325.6,1931.5),(326.6,1933.6),(327.6,1933.6),(328.7,1933.5),(329.7,1933.8),(330.8,1932.9),(331.7,1932.1),(332.7,1931.7),(333.7,1931.7),(334.7,1932.2),(335.7,1931.9),(336.7,1931.9),(337.7,1932.3),(339.3,1933.1),(340.4,1934.3),(341.5,1935.6),(342.6,1936.3),(343.6,1936.8),(344.6,1936.6),(345.8,1936.3),(346.7,1936),(347.7,1935.5),(348.7,1934.8),(349.7,1934.3),(350.7,1933.9),(351.7,1933.4),(352.7,1932.9),(353.7,1932.4),(354.7,1932.3),(355.6,1932.7),(356.6,1933.1),(357.6,1934),(358.6,1934.4),(359.8,1936.1),(360.8,1936.9),(361.8,1937.2),(362.7,1937.4),(363.7,1937.8),(364.7,1938.5),(365.7,1939.3),(366.7,1940),(367.7,1940.1),(368.7,1939.5),(369.7,1939.2),(370.6,1939.1),(371.6,1938.8),(372.6,1938.1),(373.6,1937.4),(374.8,1936.8),(375.8,1935.9),(376.7,1935.8),(377.7,1935),(378.7,1935),(379.7,1934.1),(380.7,1933),(381.7,1931.9),(382.7,1930.4),(383.7,1929.4),(384.6,1928.9),(385.6,1928.5),(386.6,1927.9),(387.6,1927.5),(388.6,1927),(389.8,1926.6),(390.8,1927.4),(391.7,1929.4),(392.7,1930.3),(393.7,1930.3),(394.7,1929.9),(395.7,1929.7),(396.7,1930.6),(397.7,1931.9),(399,1933.8)]
ma_green_runs = [(24,27),(30.2,34.9),(101,112.9),(115,122),(123.9,131),(167.9,171.8),(181,191),(192,192.9),(194,195.9),(199.9,203.7),(221.9,231.8),(233.1,234),(234.8,237.8),(240.9,252.9),(256.9,263.8),(269.9,271.9),(293.8,298.8),(301.9,304),(307.8,309.8),(339.3,343.6),(358.6,367.7),(396.7,399.5)]

# ---- blue circles (bar, price)
circle_bars = [27.9,109.9,136.8,171.8,190.9,232.7,279.7,299.8,344.9,368.6]
circle_prices = [1919.3,1918.4,1922.9,1913.9,1916.1,1926.3,1935.7,1939.2,1936.5,1939.4]

# ---- numbered support levels: label, price, first bar, last bar
level_labels = ["1","2","3","2","1","4","5","6"]
level_prices = [1905.0,1910.0,1912.0,1909.5,1908.5,1915.2,1920.0,1927.2]
level_start = [98,101,181,179.3,179.3,223,225.6,241.9]
level_end = [136.8,140.8,219.9,218.6,217.7,265.8,268.5,284.4]

current_price = 1941.6

# ---- axis ticks in bar numbers
tick_bars = [2,14,26,38,50,62,70,74,86,98,110,122,134,146,158,166,170,182,194,206,218,230,242,254,262,266,278,290,302,314,326,338,350,353.6,357.6,369.6,381.6,393.6,405.6]
tick_texts = ["07:00","10:00","","","19:00","22:00","","","04:00","07:00","10:00","13:00","16:00","19:00","22:00","","","04:00","07:00","10:00","13:00","16:00","19:00","22:00","","","04:00","07:00","10:00","13:00","16:00","19:00","","","","04:00","07:00","10:00","13:00"]
day_bars = [70,166,262,353.6]
day_texts = ["18","19","20","23"]
price_ticks = [1905,1910,1915,1920,1925,1930,1935,1940,1945]
panel2_ticks = [0.8,0.6,0.4,0.2,0,-0.2,-0.4,-0.6,-0.8]
panel2_texts = ["0","0","0","0","0","-","-","-","-"]
panel3_ticks = [1,0.5,0,-0.5,-1]
panel3_texts = ["1","0","0","-","-"]

# ---- scales of the picture
W, H = 2517, 1245
BAR0, BARW = 3.4, 6.07
def X(px): return (px - BAR0) / BARW
def Y1(py): return 1905 + (716 - py) / 16.36
def Y2(py): return (885 - py) / 114.5
def Y3(py): return (1120 - py) / 98.0

BORDER = "#9aa9b0"
PANEL = "#dfe9f1"
xr = Range1d(X(0), X(2506))
FAINT = "#808080"

def base(h, ytop, ybot, bottom=0):
    f = figure(width=W, height=h, x_range=xr, y_range=Range1d(ybot, ytop), output_backend="svg",
               toolbar_location=None, x_axis_location=None, y_axis_location=None,
               min_border_left=0, min_border_right=11, min_border_top=0, min_border_bottom=bottom,
               background_fill_color="white", border_fill_color="white", outline_line_color=None)
    f.xgrid.ticker = FixedTicker(ticks=tick_bars)
    f.ygrid.visible = False
    for g in f.xgrid:
        g.grid_line_color = "#ececec"
        g.grid_line_dash = "5 5"
    for d in day_bars:
        f.add_layout(Span(location=d, dimension="height", line_color=FAINT, line_alpha=0.2, line_width=1.2))
    return f

def right_axis(f, ticks, texts, color, minor=None):
    ax = LinearAxis(ticker=FixedTicker(ticks=ticks, minor_ticks=minor or []),
                    major_label_overrides=dict(zip(ticks, texts)))
    ax.major_tick_out = 4
    ax.major_tick_in = 0
    ax.minor_tick_out = 3
    ax.minor_tick_in = 0
    ax.major_label_standoff = 1
    ax.major_label_text_font = FONT
    ax.major_label_text_font_size = "11px"
    ax.major_label_text_color = color
    ax.major_tick_line_color = "#222222"
    ax.minor_tick_line_color = "#777777"
    ax.axis_line_color = BORDER
    ax.axis_line_width = 1.5
    f.add_layout(ax, "right")
    return ax

def hgrid(f, vals, x0=X(0), x1=X(2506)):
    f.multi_line([[x0, x1]] * len(vals), [[v, v] for v in vals], line_color=FAINT, line_alpha=0.16, line_dash="5 5", line_width=1)

def rule(f, y):
    f.line([X(0), X(2506)], [y, y], line_color=BORDER, line_width=1.5)

def chrome_box(f, Y, x0, x1, y0, y1, color=PANEL, line=BORDER):
    f.quad(left=[X(x0)], right=[X(x1)], top=[Y(y0)], bottom=[Y(y1)], fill_color=color, line_color=line, line_width=1)

def chrome_text(f, Y, x, y, s, size="11px", color="#222222", align="left", style="normal"):
    f.text([X(x)], [Y(y)], text=[s], text_font=value(FONT), text_font_size=size, text_color=color,
           text_align=align, text_baseline="middle", text_font_style=style)

# ================= price panel: frame from y=0 to y=771
f1 = base(771, Y1(0), Y1(771))
hgrid(f1, price_ticks)
f1.line([X(0), X(2506)], [1905, 1905], line_color="#e6e6e6", line_width=1.2)

ux, uy = map(np.array, zip(*upper_band))
lx, ly = map(np.array, zip(*lower_band))
ix, iy = map(np.array, zip(*inner_band))

def slice_x(xs, a, b):
    return np.array([a] + [v for v in xs if a < v < b] + [b])

for k in range(len(regime_edges) - 1):
    a, b = regime_edges[k], regime_edges[k + 1]
    red = k % 2 == 0
    grid = np.unique(np.concatenate([slice_x(ux, a, b), slice_x(lx, a, b)]))
    f1.varea(grid, np.interp(grid, lx, ly), np.interp(grid, ux, uy),
             fill_color="#f0e7e7" if red else "#e6f0e6")
for k in range(len(regime_edges) - 1):
    a, b = regime_edges[k], regime_edges[k + 1]
    red = k % 2 == 0
    dark = "#b58888" if red else "#86b48f"
    light = "#d8b9b9" if red else "#add0ad"
    g = slice_x(ix, a, b)
    f1.line(g, np.interp(g, ix, iy), line_color=light, line_width=1.2)
    g = slice_x(ux, a, b)
    f1.line(g, np.interp(g, ux, uy), line_color=dark, line_width=1.2)
    g = slice_x(lx, a, b)
    f1.line(g, np.interp(g, lx, ly), line_color=dark, line_width=1.2)

# level lines and their numbers
f1.multi_line([[a, b] for a, b in zip(level_start, level_end)], [[p, p] for p in level_prices],
              line_color="#80b38c", line_width=1.2)
f1.text([e + 1.2 for e in level_end], level_prices, text=level_labels, text_font=value(FONT),
        text_font_size="11px", text_color="#8cbc8c", text_align="left", text_baseline="middle")

# candles
rows, bars = [], []
for start, sess in ((session_17_start, session_17), (session_18_start, session_18),
                    (session_19_start, session_19), (session_20_start, session_20)):
    for j, r in enumerate(sess):
        bars.append(start + j)
        rows.append(r)
o, c, hi, lo = map(np.array, zip(*rows))
bars = np.array(bars)
hi = np.maximum.reduce([hi, o, c])
lo = np.minimum.reduce([lo, o, c])
f1.segment(bars, lo, bars, hi, line_color="black", line_width=1)
colors = ["#3ec83e" if cc >= oo else "#e06464" for oo, cc in zip(o, c)]
f1.vbar(x=bars, width=0.7, bottom=np.minimum(o, c), top=np.maximum(o, c), fill_color=colors, line_color="black", line_width=1)

# coloured moving average
mx, my = map(np.array, zip(*moving_avg))
def is_green(v):
    return any(a <= v <= b for a, b in ma_green_runs)
seg_xs, seg_ys, seg_c = [], [], []
for n in range(len(mx) - 1):
    seg_xs.append([mx[n], mx[n + 1]])
    seg_ys.append([my[n], my[n + 1]])
    seg_c.append("#128a14" if is_green((mx[n] + mx[n + 1]) / 2) else "#d42b22")
f1.multi_line(seg_xs, seg_ys, line_color=seg_c, line_width=2.2, line_cap="round")

f1.scatter(circle_bars, circle_prices, marker="circle", size=15, fill_alpha=0, line_color="#1b7fdc", line_width=3)

# arrows near the Friday 16:00 flip
f1.scatter([X(1983)], [Y1(293)], marker="inverted_triangle", size=9, fill_color="#ee4a4a", line_color=None)
f1.scatter([X(1989)], [Y1(288)], marker="triangle", size=9, fill_color="#22b02a", line_color=None)
chrome_text(f1, Y1, 1986, 301.5, "2", size="10px", color="#555555", align="center")

# current price and cursor
f1.line([X(0), X(2506)], [current_price, current_price], line_color="#f49c9c", line_width=1.3)
f1.line([X(221), X(221)], [Y1(5.5), Y1(771)], line_color="#e0b8b8", line_width=1)

# window chrome above the panel
f1.quad(left=[X(0)], right=[X(2506)], top=[Y1(0)], bottom=[Y1(5)], fill_color="white", line_color=None)
f1.quad(left=[X(1241), X(1308), X(1412)], right=[X(1305), X(1372), X(1428)], top=[Y1(0)] * 3, bottom=[Y1(3)] * 3,
        fill_color=["#e03a3a", "#3cc03c", "#ffffff"], line_color=[None, None, BORDER])
rule(f1, Y1(5.5))
rule(f1, Y1(770.3))

# watermark, legend buttons, source
chrome_text(f1, Y1, 2495, 20.5, "Or (33.20$) (FEB-23)", size="21px", color="#e2e2e2", align="right")
chrome_text(f1, Y1, 0, 764, "T-Finance.com - Temps Réel", size="11px", color="#333333")
for a, b in ((-2, 11), (12, 32), (32, 70.5), (70.5, 143.5), (143.5, 187.5)):
    chrome_box(f1, Y1, a, b, 6, 22.5)
f1.scatter([X(2)], [Y1(15)], marker="inverted_triangle", size=7, fill_color="#e02020", line_color=None)
f1.scatter([X(22)], [Y1(13)], marker="triangle", size=7, fill_color="#10b010", line_color=None)
f1.quad(left=[X(36), X(41)], right=[X(41), X(46)], top=[Y1(9)] * 2, bottom=[Y1(19)] * 2,
        fill_color=["#3ec83e", "#e06464"], line_color=None)
f1.quad(left=[X(74), X(78), X(81)], right=[X(78), X(81), X(84)], top=[Y1(9)] * 3, bottom=[Y1(19)] * 3,
        fill_color=["#3c9a3c", "#7a3a2a", "#d85050"], line_color=None)
chrome_text(f1, Y1, 49, 15, "Prix")
chrome_text(f1, Y1, 87, 15, "PRT Bands")
chrome_text(f1, Y1, 149, 15, "Autres")
right_axis(f1, price_ticks, ["1"] * len(price_ticks), "#5a0050")

# ================= empty indicator panel: frame from y=771 to y=1000
f2 = base(229, Y2(771), Y2(1000))
hgrid(f2, [t for t in panel2_ticks if t != 0])
f2.line([X(0), X(2506)], [0, 0], line_color="#e6e6e6", line_width=1.2)
f2.line([X(192), X(192)], [Y2(771), Y2(1000)], line_color="#e0b8b8", line_width=1)
rule(f2, Y2(999.3))
chrome_box(f2, Y2, -2, 168, 771.5, 787)
f2.quad(left=[X(0)], right=[X(6)], top=[Y2(774)], bottom=[Y2(785)], fill_color="black", line_color=None)
chrome_text(f2, Y2, 10, 779.5, "flèche changement de tendance")
right_axis(f2, panel2_ticks, panel2_texts, "#111111", minor=[0.7, 0.5, 0.3, 0.1, -0.1, -0.3, -0.5, -0.7, -0.9])

# ================= trend change panel: frame from y=1000 to y=1228
f3 = base(245, Y3(1000), Y3(1228), bottom=17)
ytop, ybot = Y3(1000), Y3(1228)
n_reg = len(regime_edges) - 1
f3.quad(left=regime_edges[:-1], right=regime_edges[1:], top=[ytop] * n_reg, bottom=[0] * n_reg,
        fill_color=["#ffcccc" if k % 2 == 0 else "#ccffcc" for k in range(n_reg)], line_color=None)
f3.quad(left=regime_edges[:-1], right=regime_edges[1:], top=[0] * n_reg, bottom=[ybot] * n_reg,
        fill_color=["#d5acc2" if k % 2 == 0 else "#acd4c0" for k in range(n_reg)], line_color=None)
hgrid(f3, [1, 0.5, -0.5])
f3.line([X(0), X(2506)], [0, 0], line_color="#a9b6ba", line_width=1.2, line_alpha=0.7)
f3.line([X(192), X(192)], [ytop, ybot], line_color="#b8a8a8", line_width=1, line_alpha=0.6)

# grey halos and black bars at each flip
halo_l, halo_r, halo_t = [], [], []
for fb in flip_bars:
    for dl, dr, ht in ((-0.95, -0.75, 0.04), (-0.75, -0.5, 0.3), (0.5, 0.7, 0.5), (0.7, 0.9, 0.25), (0.9, 1.15, 0.08)):
        halo_l.append(fb + dl)
        halo_r.append(fb + dr)
        halo_t.append(ht)
f3.quad(left=halo_l, right=halo_r, top=halo_t, bottom=0, fill_color="#a8aebc", fill_alpha=0.7, line_color=None)
f3.quad(left=[b - 0.4 for b in flip_bars], right=[b + 0.4 for b in flip_bars], top=1, bottom=0,
        fill_color="#333333", line_color="black", line_width=1)

# the +1 / -1 trend line
state = -1
tx, ty, tc = [], [], []
prev = regime_edges[0]
for fb in flip_bars:
    tx.append([prev, fb - 1])
    ty.append([state, state])
    tc.append("#ff0000" if state < 0 else "#00e000")
    new = -state
    tx.append([fb - 1, fb])
    ty.append([state, new])
    tc.append("#ff0000" if new < 0 else "#00e000")
    state = new
    prev = fb
tx.append([prev, 399])
ty.append([state, state])
tc.append("#00e000")
f3.multi_line(tx, ty, line_color=tc, line_width=1.5)

chrome_box(f3, Y3, -2, 129, 1000.5, 1017)
f3.quad(left=[X(0)], right=[X(6)], top=[Y3(1003)], bottom=[Y3(1014)], fill_color="black", line_color=None)
chrome_text(f3, Y3, 9, 1008.5, "Detect the trend change")
right_axis(f3, panel3_ticks, panel3_texts, "#111111")

xax = LinearAxis(ticker=FixedTicker(ticks=tick_bars), major_label_overrides=dict(zip(tick_bars, tick_texts)))
xax.major_tick_out = 3
xax.major_tick_in = 0
xax.minor_tick_out = 0
xax.major_label_standoff = 0
xax.major_label_text_font = FONT
xax.major_label_text_font_size = "11px"
xax.major_label_text_color = "#222222"
xax.axis_line_color = BORDER
xax.axis_line_width = 1.5
f3.add_layout(xax, "below")

page = column(f1, f2, f3, spacing=0)
page.styles = {"position": "absolute", "left": "0px", "top": "0px"}

# ================= transparent sheet over the page for what lies outside of the panel frames
over = figure(width=W, height=H, x_range=Range1d(0, W), y_range=Range1d(H, 0), output_backend="svg",
              toolbar_location=None, x_axis_location=None, y_axis_location=None,
              min_border_left=0, min_border_right=0, min_border_top=0, min_border_bottom=0,
              background_fill_alpha=0, border_fill_alpha=0, outline_line_color=None)
over.xgrid.visible = False
over.ygrid.visible = False
over.styles = {"position": "absolute", "left": "0px", "top": "0px"}

def sheet_tag(top, bot, s, bg, col):
    over.quad(left=[2512], right=[2525], top=[top], bottom=[bot], fill_color=bg, line_color=BORDER, line_width=1)
    over.text([2514], [(top + bot) / 2], text=[s], text_font=value(FONT), text_font_size="11px", text_color=col,
              text_baseline="middle")

for top, bot, s, bg, col in ((109, 125, "1", "#ffff30", "#222222"), (207, 220, "1", "#f4f4f4", "#a0c090"),
                             (220, 235, "1", "#ffb000", "#222222"), (235, 252, "4", "#90e890", "#222222"),
                             (252, 260, "1", "#f4f4f4", "#a0c090"), (260, 269, "1", "#f4f4f4", "#a0c090"),
                             (269, 285, "1", "#f4f4f4", "#a0c090"), (1015, 1029, "1", "#ffffff", "#20d020"),
                             (1113, 1127, "0", "#ffffff", "#222222")):
    sheet_tag(top, bot, s, bg, col)

# bold day numbers under the axis
day_px = [BAR0 + BARW * b for b in day_bars]
over.text(day_px, [1238] * len(day_px), text=day_texts, text_font=value(FONT), text_font_size="13px",
          text_font_style="bold", text_color="#111111", text_align="center", text_baseline="middle")
# date of the cursor
over.quad(left=[131], right=[252], top=[1231], bottom=[1250], fill_color="#ffff20", line_color=BORDER, line_width=1)
over.text([133], [1239], text=["mar. 17 janv. 2023 14:15"], text_font=value(FONT), text_font_size="11px",
          text_color="#111111", text_baseline="middle")

open("out.html", "w").write(file_html([page, over], INLINE))
